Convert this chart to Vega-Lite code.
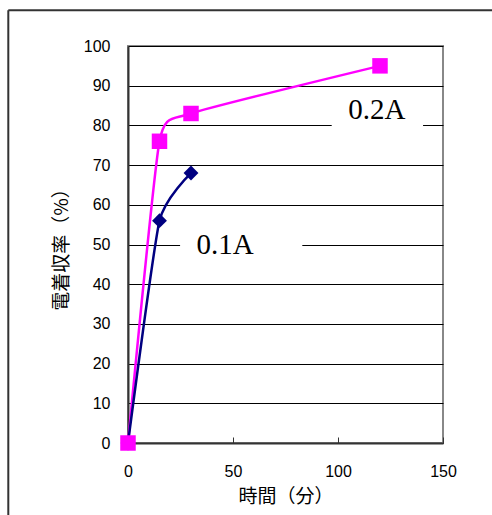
{
  "$schema": "https://vega.github.io/schema/vega-lite/v6.json",
  "autosize": {"type": "none"},
  "width": 315,
  "height": 397,
  "padding": {"left": 128, "top": 46, "right": 49, "bottom": 72},
  "background": "white",
  "config": {
    "view": {"stroke": "#888888", "strokeWidth": 2},
    "axis": {
      "labelFont": "Liberation Sans",
      "labelFontSize": 16,
      "labelColor": "#000000",
      "labelOverlap": false,
      "labelFlush": false,
      "titleFont": "Noto Sans CJK JP",
      "titleFontSize": 19,
      "titleFontWeight": "normal",
      "titleColor": "#000000",
      "domainColor": "#333333",
      "domainWidth": 2,
      "tickColor": "#333333"
    }
  },
  "datasets": {
    "series": [
      {"series": "0.2A", "t": 0, "yield": 0},
      {"series": "0.2A", "t": 15, "yield": 76},
      {"series": "0.2A", "t": 30, "yield": 83},
      {"series": "0.2A", "t": 120, "yield": 95},
      {"series": "0.1A", "t": 0, "yield": 0},
      {"series": "0.1A", "t": 15, "yield": 56},
      {"series": "0.1A", "t": 30, "yield": 68}
    ],
    "labels": [
      {"label": "0.2A", "t": 118.5, "yield": 84, "t1": 97, "t2": 140.5, "y1": 88, "y2": 79},
      {"label": "0.1A", "t": 46.2, "yield": 49.8, "t1": 24.8, "t2": 83, "y1": 54, "y2": 46}
    ]
  },
  "layer": [
    {
      "data": {"name": "labels"},
      "mark": {"type": "rect", "fill": "white", "stroke": null},
      "encoding": {
        "x": {"field": "t1", "type": "quantitative", "scale": {"domain": [0, 150], "nice": false},
              "axis": {"title": "時間（分）", "values": [0, 50, 100, 150], "tickCount": 4, "grid": false, "tickSize": -6, "labelPadding": 26, "titlePadding": 8, "domain": true}},
        "x2": {"field": "t2"},
        "y": {"field": "y1", "type": "quantitative", "scale": {"domain": [0, 100], "nice": false},
              "axis": {"title": "電着収率（%）", "values": [0, 10, 20, 30, 40, 50, 60, 70, 80, 90, 100], "tickCount": 11, "grid": true, "gridColor": "#000000", "gridWidth": 1, "gridOpacity": 1, "tickSize": 0, "labelPadding": 18, "titlePadding": 12}},
        "y2": {"field": "y2"}
      }
    },
    {
      "data": {"name": "labels"},
      "mark": {"type": "text", "font": "Liberation Serif", "fontSize": 29, "color": "#000000", "baseline": "middle", "align": "center"},
      "encoding": {
        "x": {"field": "t", "type": "quantitative"},
        "y": {"field": "yield", "type": "quantitative"},
        "text": {"field": "label"}
      }
    },
    {
      "data": {"name": "series"},
      "transform": [{"filter": "datum.series === '0.2A'"}],
      "mark": {"type": "line", "interpolate": "cardinal", "tension": 0.5, "color": "#FF00FF", "strokeWidth": 2.5},
      "encoding": {
        "x": {"field": "t", "type": "quantitative"},
        "y": {"field": "yield", "type": "quantitative"}
      }
    },
    {
      "data": {"name": "series"},
      "transform": [{"filter": "datum.series === '0.1A'"}],
      "mark": {"type": "line", "interpolate": "cardinal", "tension": 0.5, "color": "#000080", "strokeWidth": 2.5},
      "encoding": {
        "x": {"field": "t", "type": "quantitative"},
        "y": {"field": "yield", "type": "quantitative"}
      }
    },
    {
      "data": {"name": "series"},
      "transform": [{"filter": "datum.series === '0.1A'"}],
      "mark": {"type": "point", "shape": "diamond", "filled": true, "color": "#000080", "size": 220, "opacity": 1},
      "encoding": {
        "x": {"field": "t", "type": "quantitative"},
        "y": {"field": "yield", "type": "quantitative"}
      }
    },
    {
      "data": {"name": "series"},
      "transform": [{"filter": "datum.series === '0.2A'"}],
      "mark": {"type": "point", "shape": "square", "filled": true, "color": "#FF00FF", "size": 240, "opacity": 1},
      "encoding": {
        "x": {"field": "t", "type": "quantitative"},
        "y": {"field": "yield", "type": "quantitative"}
      }
    },
    {
      "data": {"values": [{}]},
      "mark": {"type": "rule", "color": "#333333", "strokeWidth": 2, "clip": false},
      "encoding": {
        "x": {"datum": -57},
        "y": {"datum": 109},
        "y2": {"datum": -20}
      }
    },
    {
      "data": {"values": [{}]},
      "mark": {"type": "rule", "color": "#333333", "strokeWidth": 2, "clip": false},
      "encoding": {
        "x": {"datum": -57},
        "x2": {"datum": 174},
        "y": {"datum": 109}
      }
    }
  ]
}
